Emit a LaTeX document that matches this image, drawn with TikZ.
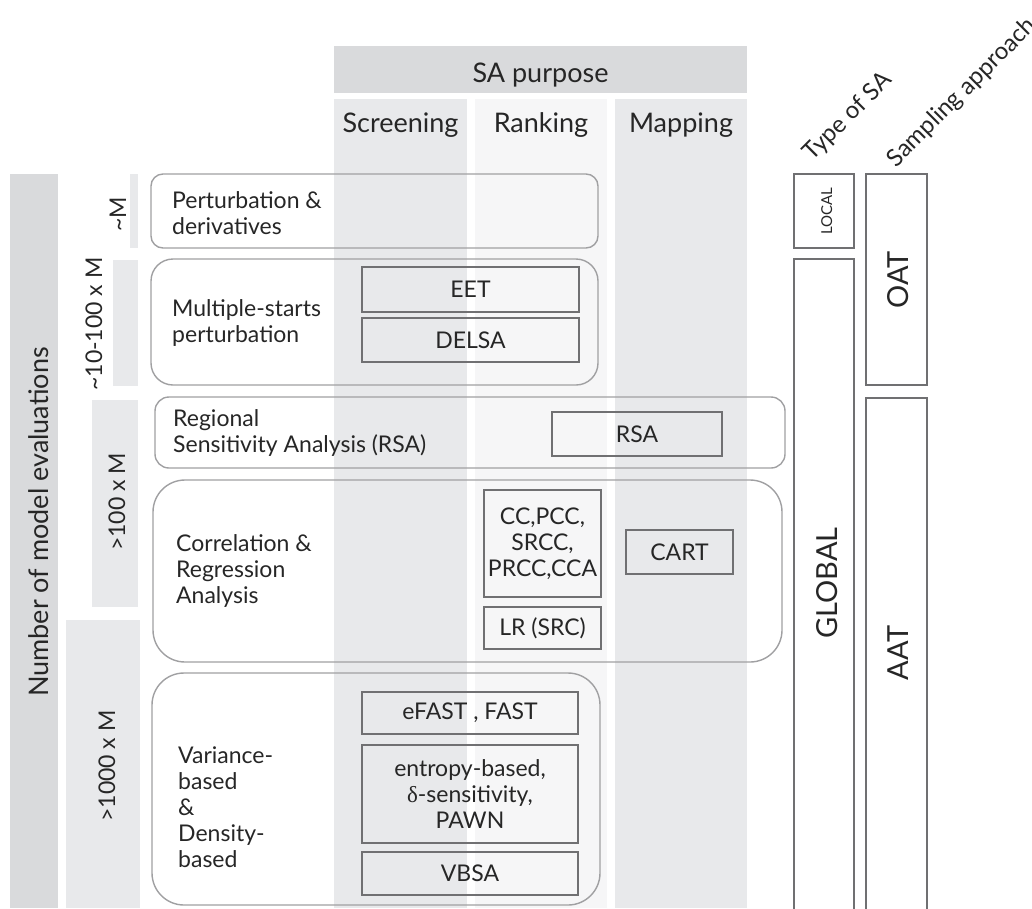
\documentclass[tikz,border=0pt]{standalone}
\usepackage{fontspec}
\setmainfont{Lato}
\newfontfamily\greekserif{Liberation Serif}
\definecolor{darkband}{RGB}{217,218,220}
\definecolor{midband}{RGB}{232,233,235}
\definecolor{paleband}{RGB}{246,246,247}
\definecolor{panelgray}{RGB}{160,160,162}
\definecolor{boxgray}{RGB}{112,112,114}
\definecolor{txtgray}{RGB}{38,38,38}
\newcommand{\fntHead}{\fontsize{27}{32}\selectfont}
\newcommand{\fntTilt}{\fontsize{24}{28}\selectfont}
\newcommand{\fntPanel}{\fontsize{23}{26}\selectfont}
\newcommand{\fntBig}{\fontsize{29}{34}\selectfont}
\newcommand{\fntTiny}{\fontsize{15}{18}\selectfont}

\begin{document}
\begin{tikzpicture}[x=1pt,y=-1pt,
    every node/.style={text=txtgray},
    head/.style={font=\fntHead, anchor=base},
    side/.style={font=\fntPanel, anchor=base, rotate=90},
    paneltxt/.style={font=\fntPanel, anchor=west, align=left, inner sep=0pt},
    panel/.style={draw=panelgray, line width=1.4pt},
    method/.style={draw=boxgray, line width=1.8pt, font=\fntPanel, align=center, inner sep=0pt},
    kind/.style={draw=boxgray, line width=1.8pt}]
    \useasboundingbox (0,0) rectangle (1032,908);
    \clip (0,0) rectangle (1032,908);
    %SA purpose columns
    \fill[darkband] (334,46) rectangle (747,93);
    \fill[midband] (334,99) rectangle (467,908);
    \fill[paleband] (475,99) rectangle (607,908);
    \fill[midband] (615,99) rectangle (747,908);
    \node[head] (purpose) at (540.5,82) {SA purpose};
    \node[head] (screening) at (400.5,132) {Screening};
    \node[head] (ranking) at (541,132) {Ranking};
    \node[head] (mapping) at (681,132) {Mapping};
    %number of model evaluations
    \fill[darkband] (10,174) rectangle (58,908);
    \fill[midband] (130,174) rectangle (138,248);
    \fill[midband] (113,260) rectangle (138,386);
    \fill[midband] (92,400) rectangle (138,607);
    \fill[midband] (66,620) rectangle (140,908);
    \node[head, rotate=90] (nme) at (48,522) {Number of model evaluations};
    \node[side] (m1) at (126,214) {\textasciitilde M};
    \node[side] (m10) at (102,324) {\textasciitilde 10-100 x M};
    \node[side] (m100) at (125,502) {>100 x M};
    \node[side] (m1000) at (115,766) {>1000 x M};
    %methods
    \draw[panel, rounded corners=12] (151,174) rectangle (598,248);
    \node[paneltxt] (pert) at (172,213) {Perturbation \&\\derivatives};
    \draw[panel, rounded corners=22] (151,259) rectangle (598,385);
    \node[paneltxt] (multi) at (172,323) {Multiple-starts\\perturbation};
    \node[method, minimum width=217, minimum height=45] (eet) at (470.5,289.5) {EET};
    \node[method, minimum width=217, minimum height=44] (delsa) at (470.5,340) {DELSA};
    \draw[panel, rounded corners=14] (155,397) rectangle (785,468);
    \node[paneltxt] (regional) at (173,433) {Regional\\Sensitivity Analysis (RSA)};
    \node[method, minimum width=170, minimum height=44] (rsa) at (637,434) {RSA};
    \draw[panel, rounded corners=32] (153,480) rectangle (782,662);
    \node[paneltxt] (corr) at (176,571) {Correlation \&\\Regression\\Analysis};
    \node[method, minimum width=117, minimum height=107] (cc) at (542.5,543.5) {CC,PCC,\\SRCC,\\PRCC,CCA};
    \node[method, minimum width=117, minimum height=42] (lr) at (542.5,628) {LR (SRC)};
    \node[method, minimum width=107, minimum height=44] (cart) at (679.5,552) {CART};
    \draw[panel, rounded corners=32] (152,673) rectangle (600,905);
    \node[paneltxt] (var) at (178,807) {Variance-\\based\\\&\\Density-\\based};
    \node[method, minimum width=216, minimum height=42] (efast) at (470,713) {eFAST , FAST};
    \node[method, minimum width=216, minimum height=98] (entropy) at (470,794) {entropy-based,\\{\greekserif δ}-sensitivity,\\PAWN};
    \node[method, minimum width=216, minimum height=43] (vbsa) at (470,873.5) {VBSA};
    %type of SA and sampling approach
    \node[font=\fntTilt, rotate=45] (type) at (848,117) {Type of SA};
    \node[font=\fntTilt, rotate=45] (sampling) at (962,93) {Sampling approach};
    \draw[kind] (794,174) rectangle (854,248);
    \node[font=\fntTiny, anchor=base, rotate=90] (local) at (832,211) {LOCAL};
    \draw[kind] (794,920) |- (854,259) -- (854,920);
    \node[font=\fntBig, anchor=base, rotate=90] (global) at (837,583) {GLOBAL};
    \draw[kind] (866,174) rectangle (927,385);
    \node[font=\fntBig, anchor=base, rotate=90] (oat) at (908,280) {OAT};
    \draw[kind] (866,920) |- (927,398) -- (927,920);
    \node[font=\fntBig, anchor=base, rotate=90] (aat) at (908,653) {AAT};
\end{tikzpicture}
\end{document}
